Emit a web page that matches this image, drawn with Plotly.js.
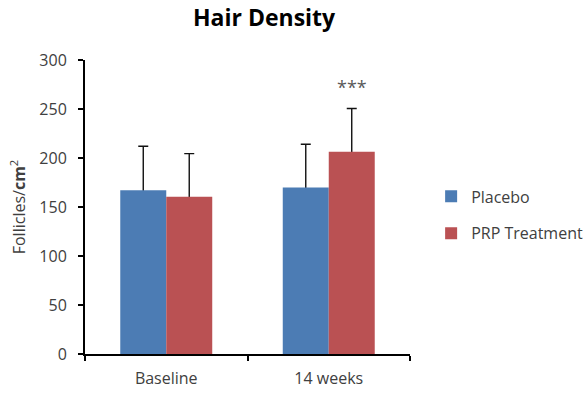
<!DOCTYPE html>
<html>
<head>
<meta charset="utf-8">
<script src="https://cdn.plot.ly/plotly-3.0.1.min.js"></script>
<style>html,body{margin:0;padding:0;background:#fff;}#chart{width:588px;height:394px;}</style>
</head>
<body>
<div id="chart"></div>
<script>
const categories = ["Baseline", "14 weeks"];
const placebo = [167, 170];
const placeboErr = [45, 44];
const prp = [160.5, 206.5];
const prpErr = [44, 44];
const seriesNames = ["Placebo", "PRP Treatment"];
const yTicks = [0, 50, 100, 150, 200, 250, 300];
const significance = "***";

const FONT = "'Open Sans', 'DejaVu Sans', sans-serif";
const BAR_W = 0.283;
const COLORS = ["#4C7CB4", "#BA5153"];

// Error-bar carriers (drawn underneath the visible bars so that only the
// upward whisker and its top cap are visible, as in the reference).
function carrier(vals, errs, off) {
  return {
    type: "bar", x: categories, y: vals, xaxis: "x", yaxis: "y",
    width: BAR_W, offset: off, showlegend: false, hoverinfo: "skip",
    marker: {color: "rgba(0,0,0,0)"},
    error_y: {type: "data", array: errs, arrayminus: vals, symmetric: false,
              color: "#111111", thickness: 1.4, width: 5}
  };
}
function bars(vals, name, color, off) {
  return {
    type: "bar", name: name, x: categories, y: vals, xaxis: "x", yaxis: "y2",
    width: BAR_W, offset: off, legendgroup: name,
    marker: {color: color, line: {width: 0}}
  };
}

const traces = [
  carrier(placebo, placeboErr, -BAR_W),
  carrier(prp, prpErr, 0),
  bars(placebo, seriesNames[0], COLORS[0], -BAR_W),
  bars(prp, seriesNames[1], COLORS[1], 0)
];

const layout = {
  width: 588, height: 394,
  margin: {l: 85, r: 178, t: 60, b: 40, autoexpand: false},
  paper_bgcolor: "#ffffff", plot_bgcolor: "rgba(0,0,0,0)",
  font: {family: FONT, size: 16, color: "#404040"},
  title: {text: "<b>Hair Density</b>", font: {family: FONT, size: 23, color: "#000000"},
          xref: "paper", x: 0.551, xanchor: "center", y: 0.955, yanchor: "middle"},
  barmode: "overlay",
  showlegend: true,
  legend: {x: 1.065, xanchor: "left", y: 0.473, yanchor: "middle", tracegroupgap: 13,
           font: {family: FONT, size: 16, color: "#404040"}},
  xaxis: {
    type: "category", range: [-0.5, 1.5], showline: true, linecolor: "#000000", linewidth: 2,
    ticks: "outside", tickson: "boundaries", ticklen: 5, tickwidth: 2, tickcolor: "#000000",
    showgrid: false, zeroline: false, ticklabelstandoff: 9,
    tickfont: {family: FONT, size: 16, color: "#404040"}
  },
  yaxis: {
    range: [0, 300], tickvals: yTicks, showline: true, linecolor: "#000000", linewidth: 2,
    ticks: "outside", ticklen: 5, tickwidth: 2, tickcolor: "#000000",
    showgrid: false, zeroline: false, ticklabelstandoff: 8,
    tickfont: {family: FONT, size: 16, color: "#404040"},
    title: {text: "Follicles/<b>cm</b><sup>2</sup>", standoff: 10,
            font: {family: FONT, size: 16, color: "#404040"}}
  },
  yaxis2: {range: [0, 300], overlaying: "y", visible: false, showgrid: false, zeroline: false},
  annotations: [
    {x: categories[1], y: prp[1] + prpErr[1], xref: "x", yref: "y", text: significance,
     showarrow: false, xshift: 23, yanchor: "bottom", yshift: 8,
     font: {family: FONT, size: 18, color: "#595959"}}
  ]
};

Plotly.newPlot("chart", traces, layout, {displayModeBar: false, staticPlot: true});
</script>
</body>
</html>
